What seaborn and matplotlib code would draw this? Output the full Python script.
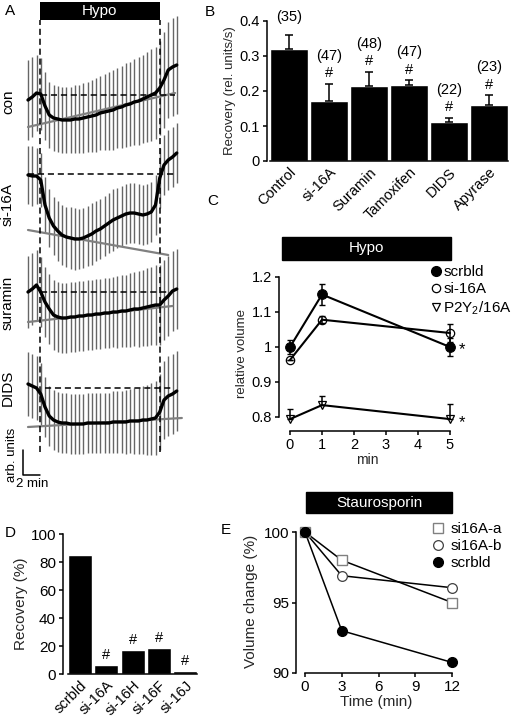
import numpy as np
import seaborn as sns
import matplotlib.pyplot as plt
from matplotlib.patches import Rectangle
from matplotlib.lines import Line2D

sns.set_style("ticks")
plt.rcParams['font.family'] = ['Liberation Sans', 'DejaVu Sans']
plt.rcParams['mathtext.fontset'] = 'custom'
plt.rcParams['mathtext.rm'] = 'Liberation Sans'
plt.rcParams['axes.linewidth'] = 1.1
plt.rcParams['xtick.major.width'] = 1.1
plt.rcParams['ytick.major.width'] = 1.1
plt.rcParams['xtick.major.size'] = 3
plt.rcParams['ytick.major.size'] = 3
plt.rcParams['xtick.major.pad'] = 2
plt.rcParams['ytick.major.pad'] = 2
plt.rcParams['xtick.color'] = 'black'
plt.rcParams['ytick.color'] = 'black'
plt.rcParams['axes.edgecolor'] = 'black'
plt.rcParams['text.color'] = 'black'

# ---- panel A: volume traces (arb. units, deviation from baseline)
trace_t = np.arange(0, 18, 0.5)
trace_names = ["con", "si-16A", "suramin", "DIDS"]
trace_offset = [0, -79, -197, -293]
con_mean = [-5, -2, 2, 1, -11, -20, -23, -24, -25, -25, -25, -24, -24, -23, -22, -21, -20, -18,
            -17, -16, -15, -13, -12, -10, -9, -7, -6, -4, -2, 0, 2, 7, 15, 25, 28, 30]
con_err = [40, 40, 38, 36, 34, 33, 33, 33, 33, 33, 33, 34, 34, 35, 35, 36, 37, 37,
           38, 39, 40, 40, 41, 42, 42, 43, 44, 44, 45, 46, 46, 47, 48, 48, 49, 49]
si_mean = [-1, -2, -2, -6, -31, -44, -52, -57, -61, -63, -64, -65, -65, -64, -62, -60, -57, -55,
           -52, -49, -46, -44, -42, -40, -39, -39, -40, -41, -40, -38, -31, -4, 9, 14, 17, 21]
si_err = [29, 30, 28, 27, 28, 29, 29, 30, 30, 30, 31, 31, 30, 30, 30, 31, 30, 30,
          30, 30, 31, 30, 30, 30, 30, 30, 30, 30, 30, 30, 30, 30, 30, 30, 30, 30]
sur_mean = [0, 3, 7, 0, -10, -17, -23, -25, -26, -26, -25, -25, -24, -24, -23, -23, -22, -22,
            -21, -21, -20, -20, -19, -19, -18, -17, -17, -16, -15, -14, -13, -13, -8, -4, 1, 3]
sur_err = [36, 36, 35, 35, 35, 35, 35, 35, 35, 35, 35, 35, 35, 35, 35, 35, 35, 35,
           35, 35, 35, 36, 36, 36, 37, 37, 38, 38, 39, 39, 40, 40, 40, 40, 40, 40]
dids_mean = [4, 2, 0, -6, -19, -28, -32, -34, -35, -35, -36, -36, -36, -36, -35, -35, -35, -35,
             -35, -35, -34, -34, -34, -34, -33, -33, -33, -32, -32, -31, -30, -24, -12, -8, -6, -3]
dids_err = [32, 32, 32, 31, 30, 30, 30, 30, 30, 30, 30, 30, 30, 30, 30, 30, 30, 30,
            30, 30, 31, 31, 31, 32, 32, 33, 33, 34, 35, 36, 37, 38, 39, 40, 40, 40]
# grey regression lines (start/end time, deviation)
fit_t = [[0, 17.3], [0, 16.5], [0, 17.0], [0, 18.1]]
fit_dev = [[-32, 2], [-56, -81], [-30, -14], [-39, -30]]
base_t = [[1.5, 17.3], [0, 17.3], [1.5, 16.5], [2.0, 16.9]]
hypo_t = [1.4, 15.5]

# ---- panel B
b_cats = ["Control", "si-16A", "Suramin", "Tamoxifen", "DIDS", "Apyrase"]
b_vals = [0.32, 0.17, 0.215, 0.218, 0.11, 0.16]
b_err = [0.04, 0.05, 0.04, 0.012, 0.013, 0.028]
b_n = ["(35)", "(47)", "(48)", "(47)", "(22)", "(23)"]
b_sig = ["", "#", "#", "#", "#", "#"]

# ---- panel C
c_time = [0, 1, 5]
c_scr = [1.0, 1.15, 1.0]
c_scr_err = [0.02, 0.03, 0.025]
c_si = [0.963, 1.078, 1.04]
c_si_err = [0.0, 0.01, 0.025]
c_p2y = [0.794, 0.834, 0.794]
c_p2y_err = [0.029, 0.026, 0.043]

# ---- panel D
d_cats = ["scrbld", "si-16A", "si-16H", "si-16F", "si-16J"]
d_vals = [85, 6.5, 17.5, 18.5, 2.5]
d_sig = ["", "#", "#", "#", "#"]

# ---- panel E
e_time = [0, 3, 12]
e_si_a = [100, 98.0, 95.0]
e_si_b = [100, 96.9, 96.05]
e_scr = [100, 93.0, 90.75]

W, H = 520, 717
fig = plt.figure(figsize=(W / 100, H / 100), dpi=100)


def box(x0, y0, x1, y1):
    return [x0 / W, 1 - y1 / H, (x1 - x0) / W, (y1 - y0) / H]


def black_bar(x0, y0, x1, y1, text):
    fig.add_artist(Rectangle((x0 / W, 1 - y1 / H), (x1 - x0) / W, (y1 - y0) / H,
                             transform=fig.transFigure, color='black'))
    fig.text((x0 + x1) / 2 / W, 1 - (y0 + y1) / 2 / H, text, color='white',
             ha='center', va='center', fontsize=11)


# ================= A
axA = fig.add_axes(box(0, 0, 185, 490))
axA.set_xlim(-28 / 8.5, 157 / 8.5)
axA.set_ylim(-395, 95)
axA.axis('off')
means = [con_mean, si_mean, sur_mean, dids_mean]
errs = [con_err, si_err, sur_err, dids_err]
label_y = [-7, -110, -208, -293]
for i in range(4):
    m = np.array(means[i]) + trace_offset[i]
    e = np.array(errs[i])
    axA.vlines(trace_t, m - e, m + e, color='#666666', lw=1.0, zorder=1)
    sns.lineplot(x=fit_t[i], y=np.array(fit_dev[i]) + trace_offset[i], ax=axA,
                 color='#808080', lw=1.6, zorder=2)
    axA.plot(base_t[i], [trace_offset[i]] * 2, color='black', ls=(0, (4, 2.5)), lw=1.1, zorder=2)
    sns.lineplot(x=trace_t, y=m, ax=axA, color='black', lw=2.4, zorder=3)
    axA.text(-2.35, label_y[i], trace_names[i], rotation=90, ha='center', va='center', fontsize=11)
axA.vlines(hypo_t, -357, 75, color='black', ls=(0, (4, 2.5)), lw=1.1, zorder=4)
axA.fill_between(hypo_t, 75, 93, color='black', lw=0)
axA.text(np.mean(hypo_t), 84, "Hypo", color='white', ha='center', va='center', fontsize=11)
# scale bar
axA.plot([-0.6, -0.6, 1.4], [-355, -380, -380], color='black', lw=1.1)
axA.text(0.45, -389, "2 min", ha='center', va='center', fontsize=9.5)
axA.text(-1.85, -360, "arb. units", rotation=90, ha='center', va='center', fontsize=9.5)
fig.text(5 / W, 1 - 11 / H, "A", fontsize=11, va='center')

# ================= B
axB = fig.add_axes(box(267, 21, 510, 161))
sns.barplot(x=b_cats, y=b_vals, color='black', saturation=1, width=0.94, ax=axB)
axB.errorbar(range(6), b_vals, yerr=[[0] * 6, b_err], fmt='none', ecolor='black',
             elinewidth=1.1, capsize=3, capthick=1.1)
axB.set_xlim(-0.545, 5.52)
axB.set_ylim(0, 0.4)
axB.set_yticks([0, 0.1, 0.2, 0.3, 0.4])
axB.set_yticklabels(['0', '0.1', '0.2', '0.3', '0.4'], fontsize=10.5)
axB.tick_params(axis='x', length=0, pad=3)
axB.set_xticks(range(6))
axB.set_xticklabels(b_cats, rotation=45, ha='right', rotation_mode='anchor', fontsize=10.5)
axB.set_ylabel("Recovery (rel. units/s)", fontsize=9.5, labelpad=3)
axB.set_xlabel("")
sns.despine(ax=axB)
axB.spines['bottom'].set_bounds(-0.47, 5.47)
for i in range(6):
    top = b_vals[i] + b_err[i]
    if b_sig[i]:
        axB.text(i, top + 0.03, b_sig[i], ha='center', va='center', fontsize=10.5, clip_on=False)
        axB.text(i, top + 0.08, b_n[i], ha='center', va='center', fontsize=10.5, clip_on=False)
    else:
        axB.text(i, top + 0.05, b_n[i], ha='center', va='center', fontsize=10.5, clip_on=False)
fig.text(205 / W, 1 - 12 / H, "B", fontsize=11, va='center')

# ================= C
black_bar(282, 237, 451, 260, "Hypo")
axC = fig.add_axes(box(279, 277, 456, 431))
axC.set_xlim(-11 / 32, 166 / 32)
axC.set_ylim(1.2 - 154 / 350, 1.2)
axC.errorbar(c_time, c_scr, yerr=c_scr_err, fmt='none', ecolor='black', elinewidth=1.1,
             capsize=2.5, zorder=2)
axC.errorbar(c_time, c_si, yerr=c_si_err, fmt='none', ecolor='black', elinewidth=1.1,
             capsize=2.5, zorder=2)
axC.errorbar(c_time, c_p2y, yerr=[[0] * 3, c_p2y_err], fmt='none', ecolor='black',
             elinewidth=1.1, capsize=2.5, zorder=2)
sns.lineplot(x=c_time, y=c_scr, ax=axC, color='black', lw=1.5, marker='o', ms=7,
             mfc='black', mec='black', zorder=3)
sns.lineplot(x=c_time, y=c_si, ax=axC, color='black', lw=1.5, marker='o', ms=6,
             mfc='none', mec='black', mew=0.9, zorder=3)
sns.lineplot(x=c_time, y=c_p2y, ax=axC, color='black', lw=1.5, marker='v', ms=6,
             mfc='none', mec='black', mew=0.9, zorder=3)
axC.text(5.37, 0.993, "*", fontsize=12, ha='center', va='center')
axC.text(5.37, 0.785, "*", fontsize=12, ha='center', va='center')
axC.set_yticks([0.8, 0.9, 1.0, 1.1, 1.2])
axC.set_yticklabels(['0.8', '0.9', '1', '1.1', '1.2'], fontsize=10.5)
axC.set_xticks([0, 1, 2, 3, 4, 5])
axC.set_xticklabels(['0', '1', '2', '3', '4', '5'], fontsize=10.5)
axC.set_xlabel("min", fontsize=10, labelpad=1)
axC.set_ylabel("relative volume", fontsize=9.5, labelpad=3)
sns.despine(ax=axC)
axC.spines['left'].set_bounds(0.8, 1.2)
axC.spines['bottom'].set_bounds(0, 5)
c_handles = [Line2D([], [], ls='', marker='o', ms=7, mfc='black', mec='black'),
             Line2D([], [], ls='', marker='o', ms=6, mfc='none', mec='black', mew=0.9),
             Line2D([], [], ls='', marker='v', ms=6, mfc='none', mec='black', mew=0.9)]
fig.legend(c_handles, ["scrbld", "si-16A", "P2Y$_2$/16A"], loc='upper left',
           bbox_to_anchor=(431 / W, 1 - 265 / H), frameon=False, fontsize=11,
           handlelength=0.6, handletextpad=0.2, labelspacing=0.2, borderpad=0, borderaxespad=0)
fig.text(207 / W, 1 - 201 / H, "C", fontsize=11, va='center')

# ================= D
axD = fig.add_axes(box(63, 534, 200, 674))
sns.barplot(x=d_cats, y=d_vals, color='black', saturation=1, width=0.914, ax=axD)
axD.set_xlim(-0.648, 4.57)
axD.set_ylim(0, 100)
axD.set_yticks([0, 20, 40, 60, 80, 100])
axD.set_yticklabels(['0', '20', '40', '60', '80', '100'], fontsize=11)
axD.tick_params(axis='x', length=0, pad=3)
axD.set_xticks(range(5))
axD.set_xticklabels(d_cats, rotation=45, ha='right', rotation_mode='anchor', fontsize=10.5)
axD.set_ylabel("Recovery (%)", fontsize=11, labelpad=2)
axD.set_xlabel("")
sns.despine(ax=axD)
axD.spines['bottom'].set_bounds(-0.457, 4.457)
for i in range(5):
    if d_sig[i]:
        axD.text(i, d_vals[i] + 7, d_sig[i], ha='center', va='center', fontsize=10.5)
fig.text(5 / W, 1 - 533 / H, "D", fontsize=11, va='center')

# ================= E
black_bar(306, 492, 452, 513, "Staurosporin")
axE = fig.add_axes(box(296, 530, 456, 673))
axE.set_xlim(-9 / 12.25, 151 / 12.25)
axE.set_ylim(90, 100 + 2 / 14.1)
sns.lineplot(x=e_time, y=e_si_a, ax=axE, color='black', lw=1.1, zorder=2)
sns.lineplot(x=e_time, y=e_si_b, ax=axE, color='black', lw=1.1, zorder=2)
sns.lineplot(x=e_time, y=e_scr, ax=axE, color='black', lw=1.1, zorder=2)
axE.plot(e_time, e_si_a, ls='', marker='s', ms=7, mfc='white', mec='#808080', mew=1, zorder=3,
         clip_on=False)
axE.plot(e_time, e_si_b, ls='', marker='o', ms=7, mfc='white', mec='#404040', mew=0.9, zorder=3,
         clip_on=False)
axE.plot(e_time, e_scr, ls='', marker='o', ms=7, mfc='black', mec='black', zorder=4,
         clip_on=False)
axE.set_xticks([0, 3, 6, 9, 12])
axE.set_xticklabels(['0', '3', '6', '9', '12'], fontsize=11)
axE.set_yticks([90, 95, 100])
axE.set_yticklabels(['90', '95', '100'], fontsize=11)
axE.set_xlabel("Time (min)", fontsize=11, labelpad=1)
axE.set_ylabel("Volume change (%)", fontsize=11, labelpad=4)
sns.despine(ax=axE)
axE.spines['left'].set_bounds(90, 100)
axE.spines['bottom'].set_bounds(0, 12)
e_handles = [Line2D([], [], ls='', marker='s', ms=7, mfc='white', mec='#808080', mew=1),
             Line2D([], [], ls='', marker='o', ms=7, mfc='white', mec='#404040', mew=0.9),
             Line2D([], [], ls='', marker='o', ms=7, mfc='black', mec='black')]
fig.legend(e_handles, ["si16A-a", "si16A-b", "scrbld"], loc='upper left',
           bbox_to_anchor=(432 / W, 1 - 522 / H), frameon=False, fontsize=11,
           handlelength=0.8, handletextpad=0.4, labelspacing=0.2, borderpad=0, borderaxespad=0)
fig.text(221 / W, 1 - 530 / H, "E", fontsize=11, va='center')

fig.savefig("out.png", dpi=100)
